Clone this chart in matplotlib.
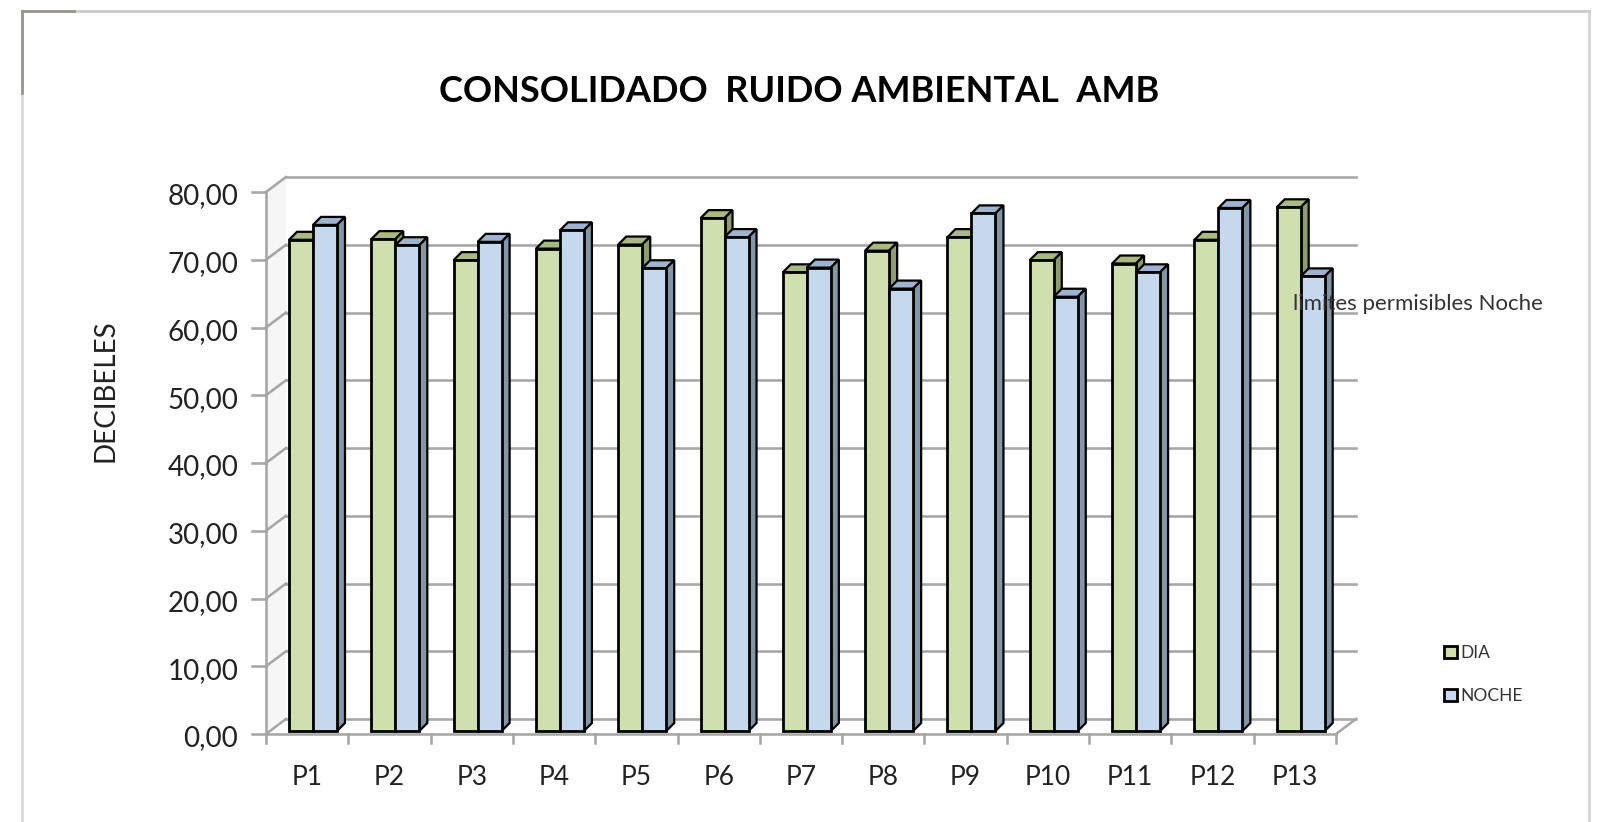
import matplotlib
matplotlib.use("Agg")
import matplotlib.pyplot as plt
from matplotlib.lines import Line2D
from matplotlib.patches import Polygon
from matplotlib.transforms import ScaledTranslation

categories = ["P1", "P2", "P3", "P4", "P5", "P6", "P7", "P8", "P9", "P10", "P11", "P12", "P13"]
dia = [72.5, 72.6, 69.5, 71.2, 71.8, 75.7, 67.7, 70.9, 72.9, 69.5, 69.0, 72.5, 77.3]
noche = [74.7, 71.7, 72.2, 73.9, 68.3, 72.9, 68.4, 65.3, 76.4, 64.1, 67.7, 77.2, 67.1]
y_ticks = [0, 10, 20, 30, 40, 50, 60, 70, 80]
y_labels = ["0,00", "10,00", "20,00", "30,00", "40,00", "50,00", "60,00", "70,00", "80,00"]

W, H = 1598, 822
FONT = "Lato"
plt.rcParams["font.family"] = [FONT, "DejaVu Sans"]
fig = plt.figure(figsize=(W / 100, H / 100), dpi=100, facecolor="white")

# plot-area: front plane of the 3-D box
L, R, B, T = 266, 1336, 734, 192
ax = fig.add_axes([L / W, 1 - B / H, (R - L) / W, (B - T) / H])
ax.set_xlim(0, 13)
ax.set_ylim(0, 80)
ax.patch.set_alpha(0)
for s in ax.spines.values():
    s.set_visible(False)

px_x = 13 / (R - L)
px_y = 80 / (B - T)
WX, WY = 20 * px_x, 15 * px_y      # wall depth
DX, DY = 8 * px_x, 8 * px_y        # bar depth
BASE = 3 * px_y
GRID = "#a6a6a6"
GLW = 1.85
LW = 2.0

# side wall and back wall
ax.add_patch(Polygon([(0, 0), (WX, WY), (WX, 80 + WY), (0, 80)], fc="#f6f6f6", ec="none", clip_on=False, zorder=0))
for v in y_ticks:
    ax.plot([0, WX], [v, v + WY], color=GRID, lw=GLW, clip_on=False, zorder=1)
    ax.plot([WX, 13 + WX], [v + WY, v + WY], color=GRID, lw=GLW, clip_on=False, zorder=1)
    ax.plot([-14 * px_x, 0], [v, v], color=GRID, lw=GLW, clip_on=False, zorder=1)
ax.plot([0, 0], [0, 80], color=GRID, lw=GLW, clip_on=False, zorder=1)
ax.plot([0, 13], [0, 0], color=GRID, lw=GLW, clip_on=False, zorder=1)
ax.plot([13, 13 + WX], [0, WY], color=GRID, lw=GLW, clip_on=False, zorder=1)
for i in range(14):
    ax.plot([i, i], [0, -9 * px_y], color=GRID, lw=GLW, clip_on=False, zorder=1)

# bars
BW = 24 * px_x
OFF = 23 * px_x
z = 3
def bar3d(x, v, front, top, side, label=None):
    global z
    y1 = v + BASE
    ax.bar(x, v, width=BW, bottom=BASE, align="edge", color=front, edgecolor="black", linewidth=LW, zorder=z + 0.2, label=label, clip_on=False)
    ax.add_patch(Polygon([(x, y1), (x + DX, y1 + DY), (x + BW + DX, y1 + DY), (x + BW, y1)], fc=top, ec="black", lw=LW * 0.8, zorder=z + 0.1, clip_on=False))
    ax.add_patch(Polygon([(x + BW, BASE), (x + BW + DX, BASE + DY), (x + BW + DX, y1 + DY), (x + BW, y1)], fc=side, ec="black", lw=LW * 0.8, zorder=z + 0.1, clip_on=False))
    z += 1

for i, (d, n) in enumerate(zip(dia, noche)):
    bar3d(i + OFF, d, "#cfdfae", "#a9b97f", "#8e9c70", "DIA" if i == 0 else None)
    bar3d(i + OFF + BW, n, "#c5d8ee", "#9db3cf", "#8496a6", "NOCHE" if i == 0 else None)

ax.set_xticks([i + 0.5 for i in range(13)], categories, fontsize=19, color="#222222")
ax.set_yticks(y_ticks, y_labels, fontsize=20, color="#222222")
ax.tick_params(axis="both", length=0)
ax.tick_params(axis="x", pad=22)
ax.tick_params(axis="y", pad=20)
shift = ScaledTranslation(0, -2 / 100, fig.dpi_scale_trans)
for lab in ax.get_yticklabels():
    lab.set_transform(lab.get_transform() + shift)
ax.set_ylabel("DECIBELES", fontsize=20, color="#222222", labelpad=35, y=0.634)

fig.text(799 / W, 1 - 92 / H, "CONSOLIDADO  RUIDO AMBIENTAL  AMB", fontsize=26, fontweight="bold", ha="center", va="center", color="black")
fig.text(1293 / W, 1 - 304 / H, "limites permisibles Noche", fontsize=16, ha="left", va="center", color="#333333", zorder=50)

ax.legend(loc="upper left", bbox_to_anchor=(1444 / W, 1 - 645 / H), bbox_transform=fig.transFigure, frameon=False,
          fontsize=12.5, handlelength=0.72, handleheight=0.72, handletextpad=0.2, labelspacing=1.55, borderpad=0,
          borderaxespad=0, labelcolor="#333333")

# page frame
fig.add_artist(Line2D([22 / W, 22 / W], [0, 1 - 11 / H], color="#d9d9d9", lw=2))
fig.add_artist(Line2D([1589 / W, 1589 / W], [0, 1 - 11 / H], color="#d4d4d4", lw=2))
fig.add_artist(Line2D([22 / W, 1589 / W], [1 - 11 / H, 1 - 11 / H], color="#cccccc", lw=2))
fig.add_artist(Line2D([22 / W, 22 / W], [1 - 93 / H, 1 - 11 / H], color="#9a958e", lw=2))
fig.add_artist(Line2D([22 / W, 74 / W], [1 - 11 / H, 1 - 11 / H], color="#9a958e", lw=2))

fig.savefig("out.png", dpi=100)
